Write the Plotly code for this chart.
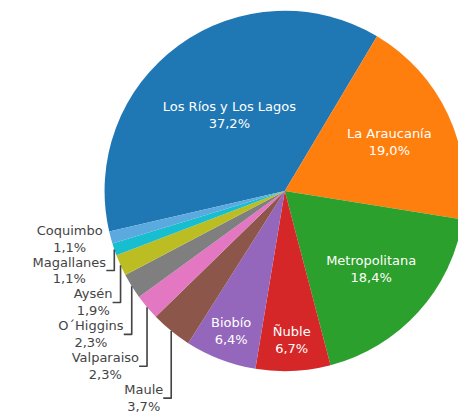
import plotly.graph_objects as go

labels = ["Los Ríos y Los Lagos", "La Araucanía", "Metropolitana", "Ñuble", "Biobío",
          "Maule", "Valparaiso", "O´Higgins", "Aysén", "Magallanes", "Coquimbo"]
values = [37.2, 19.0, 18.4, 6.7, 6.4, 3.7, 2.3, 2.3, 1.9, 1.1, 1.1]
colors = ["#1f77b4", "#ff7f0e", "#2ca02c", "#d62728", "#9467bd", "#8c564b",
          "#e377c2", "#7f7f7f", "#bcbd22", "#17becf", "#5aaae0"]
positions = ["inside"] * 5 + ["outside"] * 6

W, H = 470, 420
cx, cy, r = 286, 191, 181

fig = go.Figure(go.Pie(
    labels=labels,
    values=values,
    sort=False,
    direction="clockwise",
    rotation=-103,
    marker=dict(colors=colors, line=dict(width=0)),
    texttemplate="%{label}<br>%{percent:.1%}",
    textposition=positions,
    insidetextorientation="horizontal",
    insidetextfont=dict(color="white", size=13),
    outsidetextfont=dict(color="#444444", size=13),
    showlegend=False,
    hoverinfo="label+percent",
    domain=dict(x=[(cx - r) / W, (cx + r) / W],
                y=[1 - (cy + r) / H, 1 - (cy - r) / H]),
))

fig.update_layout(
    width=W, height=H,
    margin=dict(l=0, r=0, t=0, b=0),
    separators=",.",
    font=dict(family="Verdana, DejaVu Sans, sans-serif", size=13, color="#444444"),
    paper_bgcolor="white",
    plot_bgcolor="white",
)

fig.write_html(
    "out.html",
    config={"displayModeBar": False},
    post_script="document.body.style.margin='0';document.body.style.overflow='hidden';",
)
